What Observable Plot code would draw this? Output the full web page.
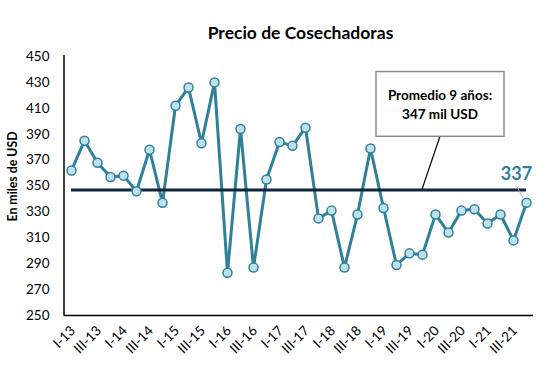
<!DOCTYPE html>
<html>
<head>
<meta charset="utf-8">
<script src="https://cdn.jsdelivr.net/npm/d3@7"></script>
<script src="https://cdn.jsdelivr.net/npm/@observablehq/plot@0.6"></script>
<style>
  html, body { margin: 0; padding: 0; background: #fff; }
  #chart { position: relative; width: 552px; height: 366px; }
</style>
</head>
<body>
<div id="chart"></div>
<script>
const quarters = ["I-13","II-13","III-13","IV-13","I-14","II-14","III-14","IV-14",
  "I-15","II-15","III-15","IV-15","I-16","II-16","III-16","IV-16",
  "I-17","II-17","III-17","IV-17","I-18","II-18","III-18","IV-18",
  "I-19","II-19","III-19","IV-19","I-20","II-20","III-20","IV-20",
  "I-21","II-21","III-21","IV-21"];
const prices = [362,385,368,357,358,346,378,337,
  412,426,383,430,283,394,287,355,
  384,381,395,325,331,287,328,379,
  333,289,298,297,328,314,331,332,
  321,328,308,337];
const tickLabels = ["I-13","III-13","I-14","III-14","I-15","III-15","I-16","III-16",
  "I-17","III-17","I-18","III-18","I-19","III-19","I-20","III-20","I-21","III-21"];
const yTicks = [250,270,290,310,330,350,370,390,410,430,450];
const average = 347;
const lastLabel = "337";
const title = "Precio de Cosechadoras";
const yLabel = "En miles de USD";
const noteLines = ["Promedio 9 años:", "347 mil USD"];

const data = quarters.map((q, i) => ({q, v: prices[i]}));
const firstQ = quarters[0], lastQ = quarters[quarters.length - 1];
const teal = "#2F819A";
const font = "Lato, 'Open Sans', sans-serif";

const chart = Plot.plot({
  width: 552,
  height: 366,
  marginTop: 56,
  marginBottom: 51,
  marginLeft: 64,
  marginRight: 19,
  style: {fontFamily: font, color: "#000", background: "#fff", overflow: "visible"},
  x: {type: "point", domain: quarters, padding: 0.5, label: null},
  y: {domain: [250, 450], label: null},
  marks: [
    Plot.axisY({ticks: yTicks, tickSize: 0, tickPadding: 15, fontSize: 13.5, label: null}),
    Plot.axisX({ticks: tickLabels, tickSize: 0, tickRotate: -45, tickPadding: 13, fontSize: 13.5, label: null, dx: 1.5}),
    Plot.ruleY([250], {stroke: "#000", strokeWidth: 1.5}),
    Plot.line(data, {x: "q", y: "v", stroke: teal, strokeWidth: 3}),
    Plot.ruleY([average], {x1: () => firstQ, x2: () => lastQ, stroke: "#0F243E", strokeWidth: 3}),
    Plot.dot(data, {x: "q", y: "v", r: 4.5, fill: "#BEE1EB", stroke: teal, strokeWidth: 1.5}),
    Plot.text([lastLabel], {x: () => lastQ, y: () => prices[prices.length - 1], text: d => d,
      dx: -10, dy: -29, fill: teal, fontSize: 18, fontWeight: "bold"}),
    Plot.text([title], {frameAnchor: "top", dx: 1.5, dy: -30, fontSize: 17.5, fontWeight: "bold", fill: "#000"}),
    Plot.text([yLabel], {frameAnchor: "left", textAnchor: "middle", rotate: -90, dx: -51, dy: -9.5, fontSize: 12.3, fontWeight: "bold", fill: "#000"})
  ]
});

document.getElementById("chart").appendChild(chart);

// axis line and annotation, positioned with the chart's own scales
const xs = chart.scale("x"), ys = chart.scale("y");
const svg = d3.select(chart);
const g = svg.append("g");
g.append("line")
  .attr("x1", xs.range[0]).attr("x2", xs.range[0])
  .attr("y1", ys.apply(450) - 1).attr("y2", ys.apply(250) + 0.75)
  .attr("stroke", "#000").attr("stroke-width", 1.5);
const boxCx = xs.apply("I-20") + 5;
const boxTop = ys.apply(438), boxBottom = ys.apply(388);
g.append("line")
  .attr("x1", boxCx).attr("y1", boxBottom)
  .attr("x2", xs.apply("IV-19")).attr("y2", ys.apply(average))
  .attr("stroke", "#000").attr("stroke-width", 1.2);
g.append("rect")
  .attr("x", boxCx - 64).attr("y", boxTop).attr("width", 128).attr("height", boxBottom - boxTop)
  .attr("fill", "#fff").attr("stroke", "#8c8c8c").attr("stroke-width", 1.5);
g.selectAll("text.note").data(noteLines).join("text")
  .attr("x", boxCx).attr("y", (d, i) => boxTop + 28 + i * 19)
  .attr("text-anchor", "middle")
  .attr("font-family", font).attr("font-size", 13.5).attr("font-weight", "bold")
  .text(d => d);
const xl = xs.apply(lastQ);
g.append("line")
  .attr("x1", xl - 9).attr("y1", ys.apply(349))
  .attr("x2", xl - 3).attr("y2", ys.apply(340.5))
  .attr("stroke", "#a6a6a6").attr("stroke-width", 1);
</script>
</body>
</html>
